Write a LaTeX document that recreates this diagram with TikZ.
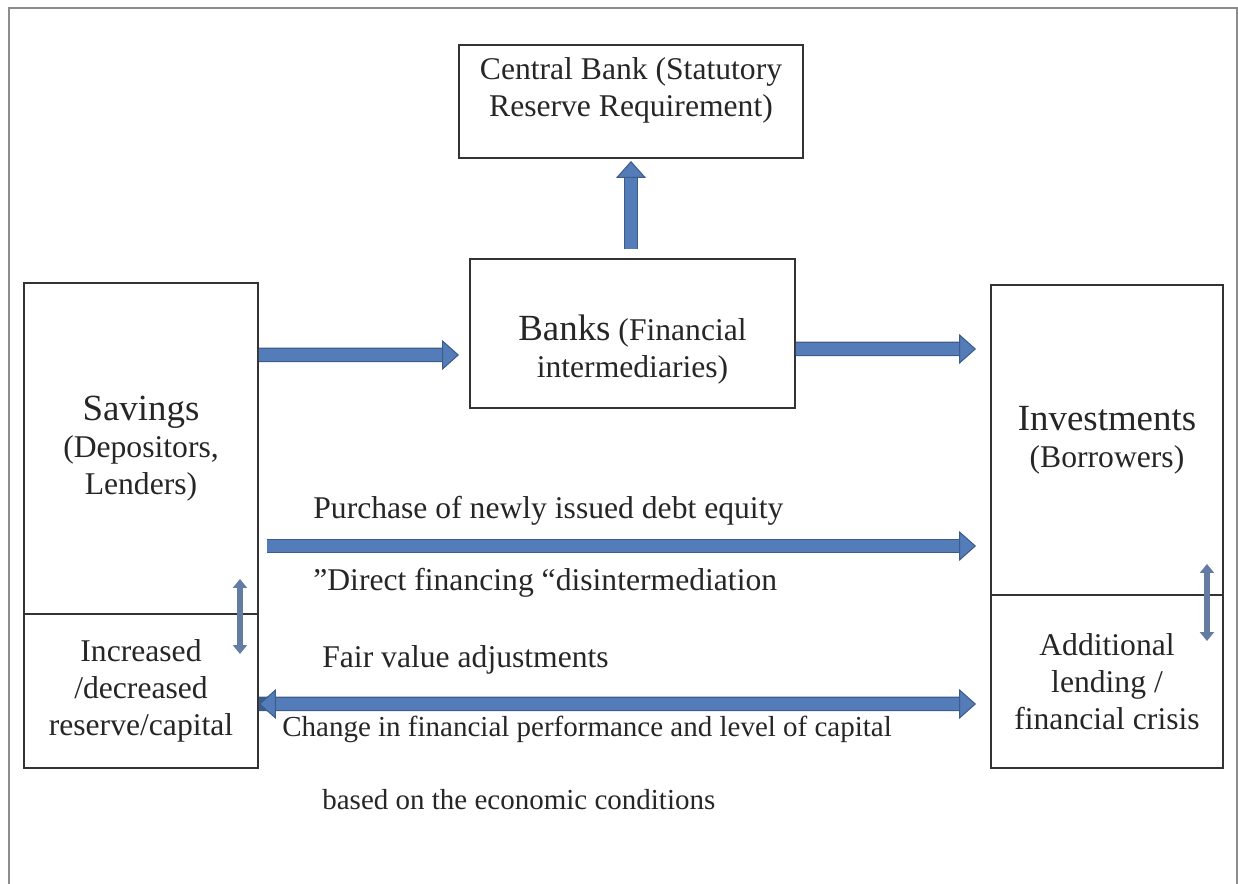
\documentclass[tikz,border=0pt]{standalone}
\usepackage{fontspec}
\setmainfont{Liberation Serif}
\usetikzlibrary{arrows.meta,calc}
\definecolor{flowblue}{RGB}{84,124,184}
\definecolor{flowedge}{RGB}{60,92,138}
\definecolor{twoway}{RGB}{100,124,164}
\newcommand{\headsize}{\fontsize{21}{25}\selectfont}

\begin{document}
\begin{tikzpicture}
\tikzstyle{box}=[draw=black!80, line width=1.1pt, rectangle, align=center, inner sep=2pt, text=black!85, font=\fontsize{18}{21}\selectfont]
\tikzstyle{lbl}=[align=center, text=black!85, font=\fontsize{18}{21}\selectfont]
\tikzstyle{caption}=[anchor=west, inner sep=0pt, text=black!85, font=\fontsize{18}{21}\selectfont]
\tikzstyle{flow}=[draw=flowblue, line width=0.24cm, -{Triangle[width=0.6cm,length=0.34cm,color=flowedge,fill=flowblue,line width=0.6pt]}, preaction={draw=flowedge, line width=0.29cm, arrows=-, shorten >=0.32cm}]
\tikzstyle{bothflow}=[flow, {Triangle[width=0.6cm,length=0.34cm,color=flowedge,fill=flowblue,line width=0.6pt]}-{Triangle[width=0.6cm,length=0.34cm,color=flowedge,fill=flowblue,line width=0.6pt]}, preaction={shorten <=0.32cm}]
\tikzstyle{twoarrow}=[draw=twoway, line width=0.11cm, {Triangle[width=0.28cm,length=0.18cm]}-{Triangle[width=0.28cm,length=0.18cm]}]

\useasboundingbox (0,0) rectangle (24.76,-17.68);

% Outer frame (open at the bottom)
\draw[black!45, line width=1.2pt] (0.18,-17.68) -- (0.18,-0.16) -- (24.74,-0.16) -- (24.74,-17.68);

% Define boxes
\node[box, minimum width=6.88cm, minimum height=2.26cm,
  label={[lbl, yshift=0.23cm]center:Central Bank (Statutory\\Reserve Requirement)}] (central) at (12.62,-2.03) {};
\node[box, minimum width=6.5cm, minimum height=2.98cm,
  label={[lbl, yshift=-0.33cm]center:{\headsize Banks} (Financial\\intermediaries)}] (banks) at (12.65,-6.67) {};

\node[box, minimum width=4.68cm, minimum height=6.62cm] (savings) at (2.82,-8.97) {{\headsize Savings}\\(Depositors,\\Lenders)};
\node[box, minimum width=4.68cm, minimum height=3.08cm] (reserve) at (2.82,-13.82) {Increased\\/decreased\\reserve/capital};

\node[box, minimum width=4.64cm, minimum height=6.2cm] (invest) at (22.14,-8.8) {{\headsize Investments}\\(Borrowers)};
\node[box, minimum width=4.64cm, minimum height=3.46cm] (lending) at (22.14,-13.63) {Additional\\lending /\\financial crisis};

% Flows between the boxes
\draw[flow] ($(banks.north)+(-0.03,0.18)$) -- ($(central.south)+(0,-0.04)$);
\draw[flow] ($(savings.east)+(0,1.87)$) -- ($(banks.west)+(-0.2,-0.43)$);
\draw[flow] ($(banks.east)+(0,-0.31)$) -- ($(invest.west)+(-0.28,1.82)$);
\draw[flow] ($(savings.east)+(0.16,-1.95)$) -- ($(invest.west)+(-0.28,-2.12)$);
\draw[bothflow] ($(reserve.east)+(0,-0.26)$) -- ($(lending.west)+(-0.28,-0.45)$);

% Two-way links inside the side boxes
\draw[twoarrow] ($(savings.south east)+(-0.38,0.72)$) -- ($(reserve.north east)+(-0.38,-0.82)$);
\draw[twoarrow] ($(invest.south east)+(-0.34,0.64)$) -- ($(lending.north east)+(-0.34,-0.94)$);

% Captions along the long arrows
\node[caption] (purchase) at (6.26,-10.22) {Purchase of newly issued debt equity};
\node[caption] (direct) at (6.26,-11.66) {”Direct financing “disintermediation};
\node[caption] (fairvalue) at (6.44,-13.2) {Fair value adjustments};
\node[caption, font=\fontsize{16.5}{20}\selectfont] (change) at (5.64,-14.58) {Change in financial performance and level of capital};
\node[caption, font=\fontsize{16.5}{20}\selectfont] (based) at (6.44,-16.0) {based on the economic conditions};
\end{tikzpicture}
\end{document}
